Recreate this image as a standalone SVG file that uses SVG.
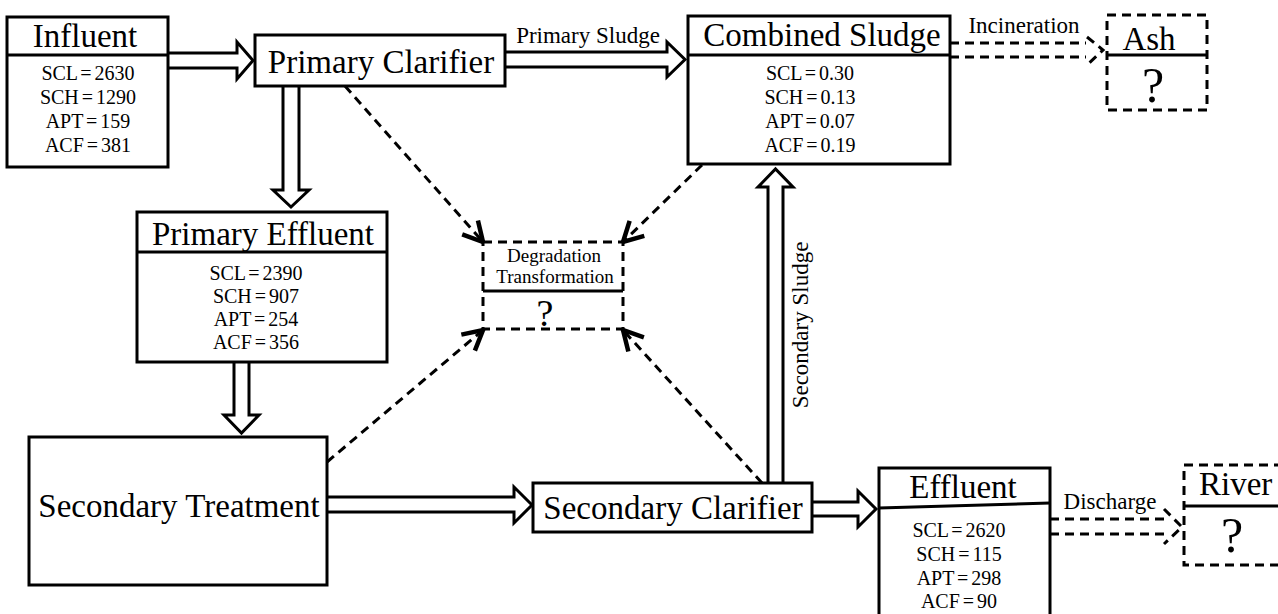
<svg xmlns="http://www.w3.org/2000/svg" width="1278" height="614" viewBox="0 0 1278 614">
<style>
.box{fill:#fff;stroke:#000;stroke-width:3}
.dbox{fill:#fff;stroke:#000;stroke-width:3;stroke-dasharray:9 6}
.div{stroke:#000;stroke-width:3}
.arr{fill:#fff;stroke:#000;stroke-width:3;stroke-linejoin:miter}
.dash{fill:none;stroke:#000;stroke-width:3;stroke-dasharray:9 6}
text{font-family:"Liberation Serif","Times New Roman",serif;fill:#000}
.t{font-size:33px;text-anchor:middle}
.v{font-size:20px;text-anchor:middle;word-spacing:-2px}
.l{font-size:23px;text-anchor:middle}
.q{text-anchor:middle}
</style>
<defs>
<marker id="vh" markerUnits="userSpaceOnUse" markerWidth="30" markerHeight="30" refX="0" refY="0" viewBox="-16 -10 20 20" orient="auto" overflow="visible">
<path d="M-13,-7 L0,0 L-13,7" fill="none" stroke="#000" stroke-width="3"/>
</marker>
</defs>

<g id="connectors">
<path class="arr" d="M168,53 H237 V42 L253,60.5 L237,79 V68 H168"/>
<path class="arr" d="M505,52 H667 V42 L685,59.5 L667,77 V67 H505"/>
<path class="arr" d="M283,86 V190 H273 L291,207 L309,190 H299 V86"/>
<path class="arr" d="M234,362 V415 H224 L241.5,433 L259,415 H249 V362"/>
<path class="arr" d="M327,497 H514 V487 L532,505 L514,523 V512 H327"/>
<path class="arr" d="M812,502 H858 V491 L876,509 L858,527 V516 H812"/>
<path class="arr" d="M768,483 V187 H758 L775.5,169 L793,187 H783 V483"/>
<path class="dash" d="M950,43 H1086 M950,57 H1086"/>
<path class="dash" d="M1087,37 L1103,50 L1086,66"/>
<path class="dash" d="M1050,519 H1164 M1050,534 H1164"/>
<path class="dash" d="M1164,509 L1182,527 L1164,544"/>
<path class="dash" d="M345,86 L483,242" marker-end="url(#vh)"/>
<path class="dash" d="M702,165 L623,242" marker-end="url(#vh)"/>
<path class="dash" d="M327,462 L483,330" marker-end="url(#vh)"/>
<path class="dash" d="M762,483 L623,330" marker-end="url(#vh)"/>
<text class="l" x="588" y="43">Primary Sludge</text>
<text class="l" x="1024" y="33">Incineration</text>
<text class="l" x="1110" y="509">Discharge</text>
<text class="l" transform="translate(808,325) rotate(-90)">Secondary Sludge</text>
</g>

<g id="influent">
<rect class="box" x="7" y="17" width="161" height="150"/>
<line class="div" x1="7" y1="55" x2="168" y2="55"/>
<text class="t" x="85" y="47">Influent</text>
<text class="v" x="88" y="80">SCL = 2630</text>
<text class="v" x="88" y="104">SCH = 1290</text>
<text class="v" x="88" y="128">APT = 159</text>
<text class="v" x="88" y="152">ACF = 381</text>
</g>

<g id="primary-clarifier">
<rect class="box" x="255" y="35" width="250" height="51"/>
<text class="t" x="381" y="73">Primary Clarifier</text>
</g>

<g id="combined-sludge">
<rect class="box" x="688" y="16" width="262" height="148"/>
<line class="div" x1="688" y1="55" x2="950" y2="55"/>
<text class="t" x="822" y="46">Combined Sludge</text>
<text class="v" x="810" y="80">SCL = 0.30</text>
<text class="v" x="810" y="104">SCH = 0.13</text>
<text class="v" x="810" y="128">APT = 0.07</text>
<text class="v" x="810" y="152">ACF = 0.19</text>
</g>

<g id="ash">
<rect class="dbox" x="1107" y="15" width="100" height="95"/>
<line class="div" x1="1107" y1="55" x2="1207" y2="55"/>
<text class="t" x="1149" y="50">Ash</text>
<text class="q" x="1153" y="102" font-size="50">?</text>
</g>

<g id="primary-effluent">
<rect class="box" x="137" y="212" width="250" height="150"/>
<line class="div" x1="137" y1="252" x2="387" y2="252"/>
<text class="t" x="263" y="245">Primary Effluent</text>
<text class="v" x="256" y="280">SCL = 2390</text>
<text class="v" x="256" y="303">SCH = 907</text>
<text class="v" x="256" y="326">APT = 254</text>
<text class="v" x="256" y="349">ACF = 356</text>
</g>

<g id="degradation">
<rect class="dbox" x="483" y="242" width="140" height="87"/>
<line class="div" x1="483" y1="291" x2="623" y2="291"/>
<text class="q" x="554" y="262" font-size="19">Degradation</text>
<text class="q" x="555" y="283" font-size="19">Transformation</text>
<text class="q" x="545" y="326" font-size="38">?</text>
</g>

<g id="secondary-treatment">
<rect class="box" x="29" y="437" width="298" height="148"/>
<text class="t" x="179" y="517">Secondary Treatment</text>
</g>

<g id="secondary-clarifier">
<rect class="box" x="533" y="483" width="279" height="49"/>
<text class="t" x="673" y="519">Secondary Clarifier</text>
</g>

<g id="effluent">
<rect class="box" x="879" y="468" width="171" height="160"/>
<line class="div" x1="879" y1="508" x2="1050" y2="503"/>
<text class="t" x="963" y="498">Effluent</text>
<text class="v" x="959" y="537">SCL = 2620</text>
<text class="v" x="959" y="561">SCH = 115</text>
<text class="v" x="959" y="585">APT = 298</text>
<text class="v" x="959" y="608">ACF = 90</text>
</g>

<g id="river">
<rect class="dbox" x="1184" y="465" width="110" height="100"/>
<line class="div" x1="1184" y1="506" x2="1294" y2="506"/>
<text x="1199" y="495" font-size="33">River</text>
<text class="q" x="1232" y="552" font-size="50">?</text>
</g>
</svg>
